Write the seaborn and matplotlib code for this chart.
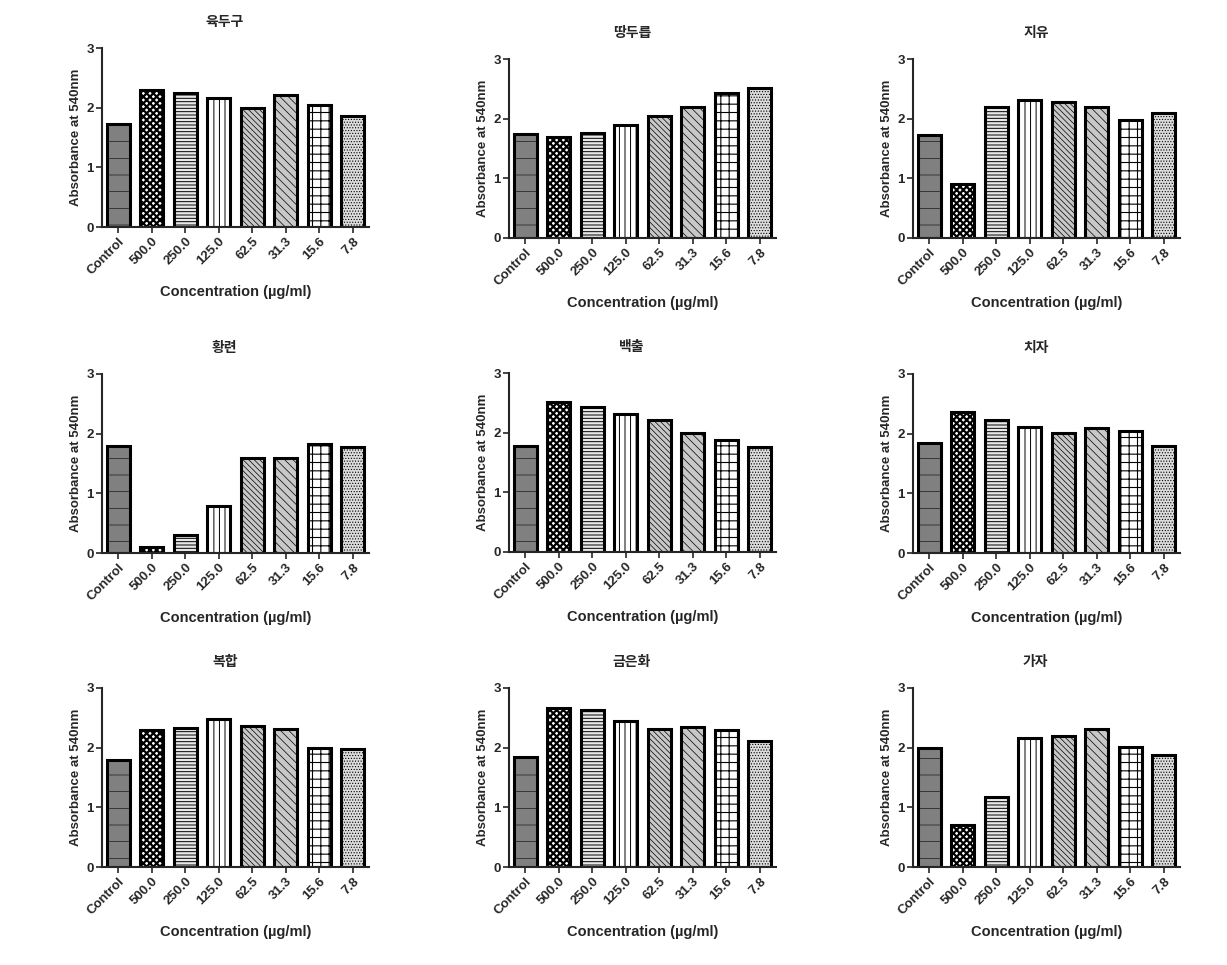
import numpy as np
import pandas as pd
import matplotlib
matplotlib.use("Agg")
import matplotlib.pyplot as plt
import seaborn as sns

# Data
concentrations = ["Control", "500.0", "250.0", "125.0", "62.5", "31.3", "15.6", "7.8"]

titles = ["육두구", "땅두릅", "지유", "황련", "백출", "치자", "복합", "금은화", "가자"]

yukduku = [1.73, 2.30, 2.25, 2.17, 2.00, 2.21, 2.04, 1.86]
ttangdureup = [1.74, 1.69, 1.76, 1.89, 2.04, 2.20, 2.43, 2.51]
jiyu = [1.72, 0.90, 2.19, 2.31, 2.28, 2.20, 1.97, 2.09]
hwangryeon = [1.80, 0.10, 0.31, 0.79, 1.60, 1.59, 1.83, 1.78]
baekchul = [1.77, 2.52, 2.43, 2.32, 2.22, 2.00, 1.87, 1.76]
chija = [1.84, 2.36, 2.23, 2.12, 2.01, 2.09, 2.04, 1.80]
bokhap = [1.79, 2.29, 2.33, 2.48, 2.36, 2.32, 2.00, 1.98]
geumeunhwa = [1.85, 2.66, 2.63, 2.45, 2.31, 2.34, 2.30, 2.11]
gaja = [2.00, 0.70, 1.18, 2.17, 2.19, 2.32, 2.01, 1.88]

panel_values = [yukduku, ttangdureup, jiyu, hwangryeon, baekchul,
                chija, bokhap, geumeunhwa, gaja]

# bar styling per concentration
face_colors = ["#808080", "#ffffff", "#e8e8e8", "#ffffff",
               "#c8c8c8", "#c8c8c8", "#ffffff", "#dcdcdc"]
hatches = ["-", "xxxxx", "-----", "|||", "\\\\\\\\\\\\", "\\\\\\\\", "++", "......"]
hatch_lw = [0.4, 1.6, 0.7, 0.7, 0.5, 0.5, 0.8, 0.5]

sns.set_style("ticks")
plt.rcParams["font.family"] = ["Liberation Sans", "Noto Sans CJK KR"]
plt.rcParams["hatch.linewidth"] = 0.7

W, H = 1227, 965
fig = plt.figure(figsize=(W / 100, H / 100), dpi=100)

# axes placement in pixels: (left, zero line y)
col_x = [102, 509, 913]
row_zero = [[227, 238, 238], [553, 552, 553], [867, 867, 867]]
ax_w, ax_h = 267, 179

for i, (title, vals) in enumerate(zip(titles, panel_values)):
    r, c = divmod(i, 3)
    left = col_x[c] / W
    bottom = 1 - row_zero[r][c] / H
    ax = fig.add_axes([left, bottom, ax_w / W, ax_h / H])

    df = pd.DataFrame({"conc": concentrations, "abs": vals})
    sns.barplot(data=df, x="conc", y="abs", hue="conc", order=concentrations,
                hue_order=concentrations, palette=face_colors, legend=False,
                width=0.69, saturation=1, edgecolor="black", linewidth=2.2,
                ax=ax)
    for patch, h, hl in zip(ax.patches, hatches, hatch_lw):
        patch.set_hatch(h)
        if hasattr(patch, "set_hatch_linewidth"):
            patch.set_hatch_linewidth(hl)

    ax.set_xlim(-0.48, 7.48)
    ax.set_ylim(0, 3)
    ax.set_yticks([0, 1, 2, 3])
    for s in ["top", "right"]:
        ax.spines[s].set_visible(False)
    for s in ["left", "bottom"]:
        ax.spines[s].set_linewidth(1.5)
    ax.tick_params(axis="both", width=1.2, length=4, labelsize=9.5, pad=2)
    ax.set_xticks(range(len(concentrations)))
    ax.set_xticklabels(concentrations, rotation=45, ha="right",
                       rotation_mode="anchor", fontweight="bold")
    for lab in ax.get_yticklabels():
        lab.set_fontweight("bold")

    ax.set_xlabel("Concentration (\u00b5g/ml)", fontsize=10.5,
                  fontweight="bold", labelpad=6)
    ax.set_ylabel("Absorbance at 540nm", fontsize=9.5,
                  fontweight="bold", labelpad=3)
    ax.set_title(title, fontsize=10, fontweight="bold", pad=16, x=0.46)

fig.savefig("out.png", dpi=100)
